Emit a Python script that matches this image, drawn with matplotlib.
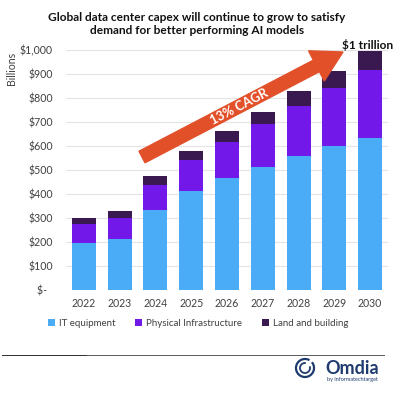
import matplotlib
matplotlib.use("Agg")
import matplotlib.pyplot as plt
import numpy as np
from matplotlib.patches import FancyArrow, Arc, Rectangle
from matplotlib.transforms import Affine2D

years = ["2022", "2023", "2024", "2025", "2026", "2027", "2028", "2029", "2030"]
it_equipment = [197, 212, 333, 414, 467, 514, 560, 601, 635]
physical_infra = [78, 89, 106, 128, 151, 179, 208, 242, 280]
land_building = [24, 28, 36, 37, 44, 50, 62, 71, 80]
series_names = ["IT equipment", "Physical Infrastructure", "Land and building"]
yticks = [0, 100, 200, 300, 400, 500, 600, 700, 800, 900, 1000]
ytick_labels = ["$-  ", "$100", "$200", "$300", "$400", "$500", "$600", "$700", "$800", "$900", "$1,000"]

colors = ["#4AABF6", "#7219E9", "#3A1850"]
FONT = "Lato"

W, H = 409, 398
fig = plt.figure(figsize=(W / 100, H / 100), dpi=100)
fig.patch.set_facecolor("white")
px = Affine2D().scale(1 / W, 1 / H) + fig.transFigure

def fx(p):
    return p / W

def fy(p):
    return (H - p) / H

ax = fig.add_axes([66 / W, (H - 290) / H, (388 - 66) / W, 240 / H])
x = np.arange(len(years))
bottom = np.zeros(len(years))
handles = []
for vals, c, name in zip([it_equipment, physical_infra, land_building], colors, series_names):
    b = ax.bar(x, vals, width=0.67, bottom=bottom, color=c, label=name, zorder=3)
    handles.append(b)
    bottom = bottom + np.array(vals)

ax.set_xlim(-0.5, 8.5)
ax.set_ylim(0, 1000)
ax.set_yticks(yticks)
ax.set_yticklabels(ytick_labels, fontsize=7.6, family=FONT, color="#404040")
ax.set_xticks(x)
ax.set_xticklabels(years, fontsize=7.6, family=FONT, color="#404040")
ax.tick_params(axis="both", length=0)
ax.tick_params(axis="y", pad=9.5)
ax.tick_params(axis="x", pad=6)
ax.grid(axis="y", color="#E4E4E4", linewidth=0.8, zorder=0)
for s in ax.spines.values():
    s.set_visible(False)
ax.set_ylabel("Billions", fontsize=7.6, family=FONT, color="#404040")
ax.yaxis.set_label_coords((17 - 66) / 322, (290 - 68) / 240)

# CAGR arrow
x0, y0 = 142, 157
x1, y1 = 343, 52
arr = FancyArrow(x0, H - y0, (x1 - x0), (y0 - y1), width=13, head_width=34, head_length=30,
                 length_includes_head=True, color="#E2502A", zorder=10)
arr.set_transform(px)
fig.add_artist(arr)
ang = np.degrees(np.arctan2(y0 - y1, x1 - x0))
fig.text(fx(239), fy(107), "13% CAGR", rotation=ang, rotation_mode="anchor",
         ha="center", va="center", color="white", fontsize=9.2, fontweight="bold", family=FONT, zorder=11)

fig.text(fx(368), fy(45), "$1 trillion", ha="center", va="center", fontsize=8.6,
         fontweight="bold", family=FONT, color="#111111")

fig.text(fx(197), fy(24), "Global data center capex will continue to grow to satisfy\ndemand for better performing AI models",
         ha="center", va="center", fontsize=8.6, fontweight="bold", family=FONT, color="#111111",
         linespacing=1.25)

leg = fig.legend(handles=handles, labels=series_names, loc="center", bbox_to_anchor=(fx(198), fy(323)),
                 ncol=3, frameon=False, handlelength=0.75, handleheight=0.75,
                 handletextpad=0.4, columnspacing=2.0, prop={"family": FONT, "size": 7.0})
for t in leg.get_texts():
    t.set_color("#404040")

# footer line
fig.add_artist(Rectangle((2, H - 356), 383, 1.5, facecolor="#606060", edgecolor="none", transform=px, zorder=5))
fig.add_artist(Rectangle((2, H - 356.3), 85, 1.8, facecolor="#333333", edgecolor="none", transform=px, zorder=6))

# Omdia logo
fig.add_artist(Arc((305, H - 368), 18, 18, theta1=60, theta2=400, color="#1F3A6E", linewidth=1.6, transform=px))
fig.add_artist(Arc((305, H - 368), 10, 10, theta1=80, theta2=380, color="#1F3A6E", linewidth=1.3, transform=px))
fig.text(fx(352), fy(368), "Omdia", ha="center", va="center", fontsize=13, fontweight="bold",
         family=FONT, color="#1F3A6E")
fig.text(fx(352), fy(380), "by informatechtarget", ha="center", va="center", fontsize=4,
         family=FONT, color="#1F3A6E")

fig.savefig("out.png", dpi=100, facecolor="white")
